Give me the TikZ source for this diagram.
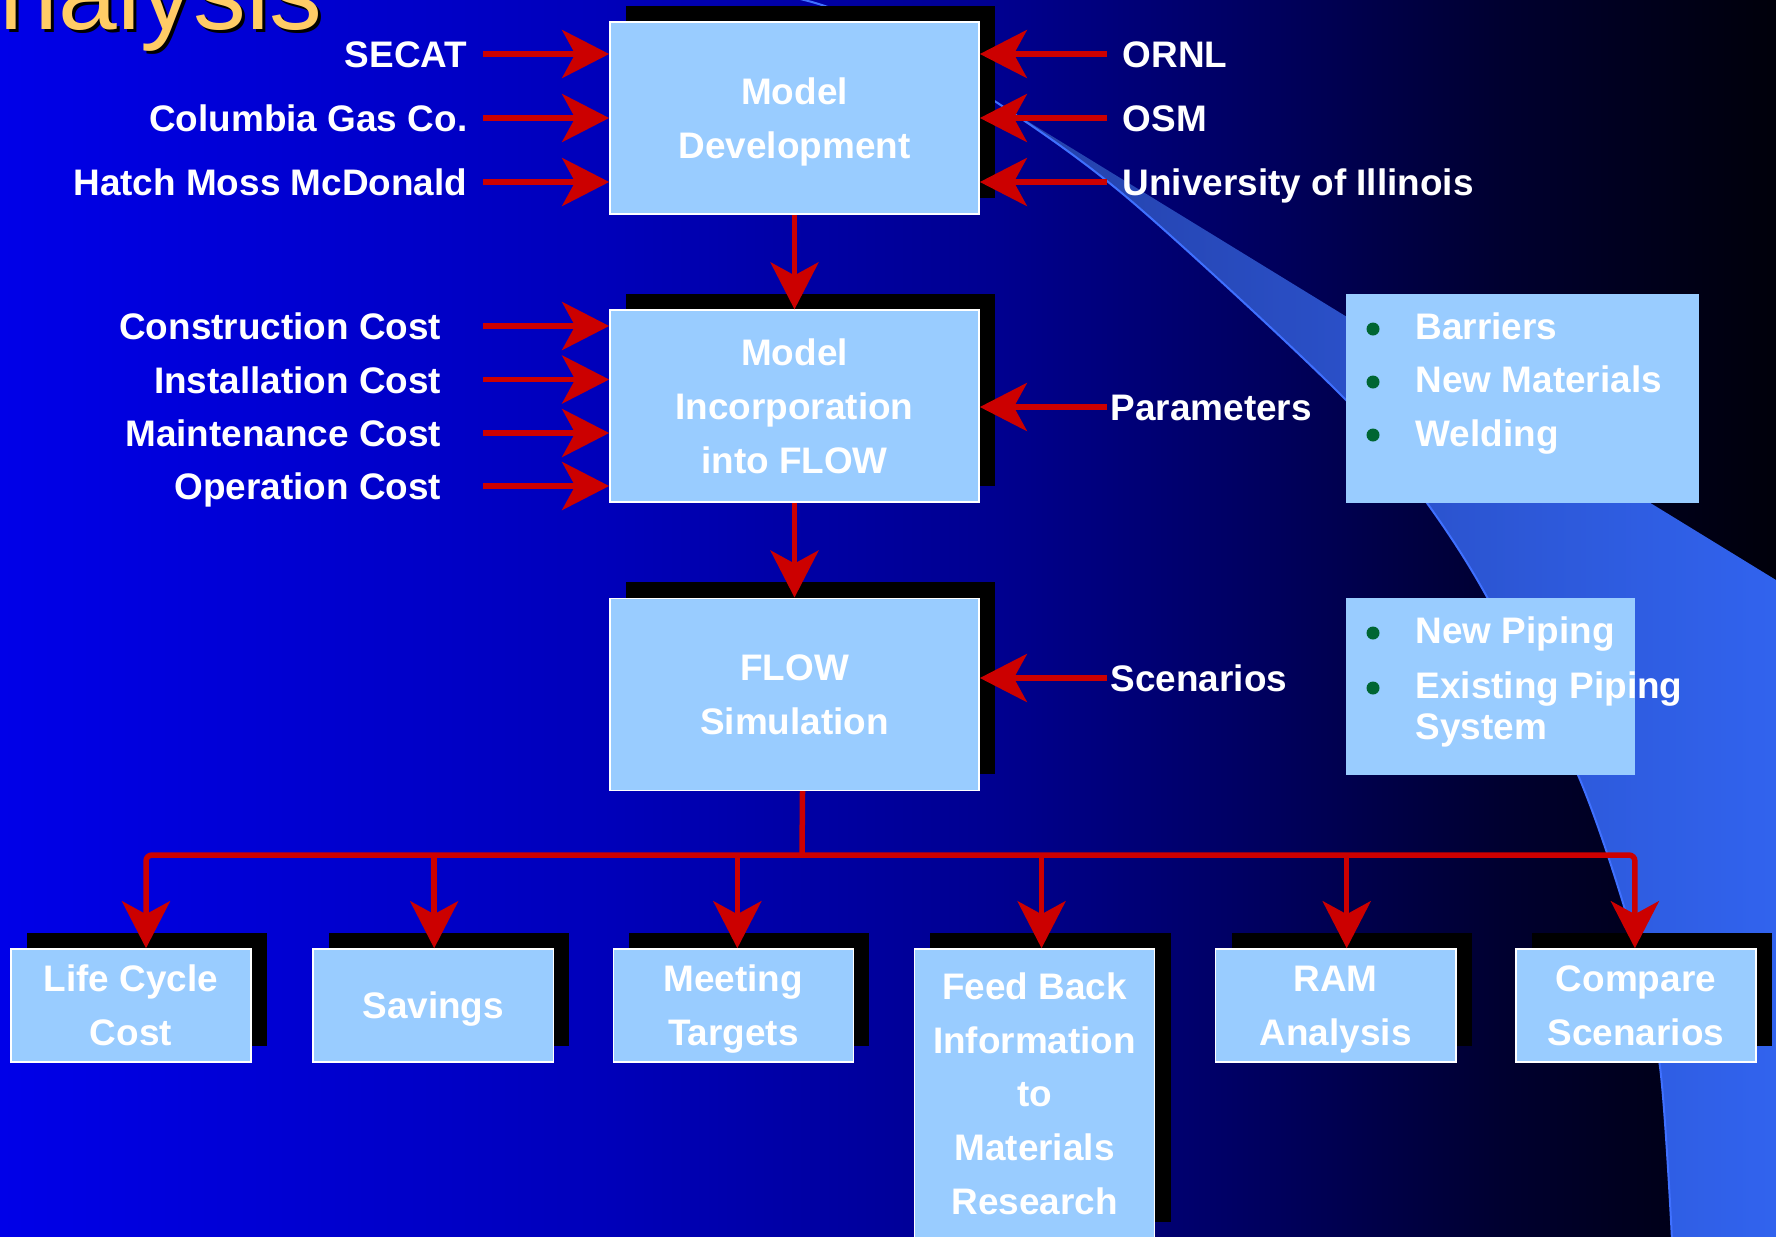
\documentclass[tikz,border=0pt]{standalone}
\usepackage{fontspec}
\setmainfont{Liberation Sans}
\usetikzlibrary{positioning,arrows.meta,shadows}

\definecolor{boxblue}{HTML}{99CCFF}
\definecolor{arrowred}{HTML}{CC0000}
\definecolor{titleyellow}{HTML}{FFCC66}
\definecolor{dotgreen}{HTML}{006633}
\definecolor{swooshline}{HTML}{3F70FF}
\definecolor{swooshdark}{HTML}{2440A8}
\definecolor{swooshlight}{HTML}{3163EE}

\pgfdeclarehorizontalshading{slideshade}{100bp}{rgb(0bp)=(0,0,0.91); rgb(25bp)=(0,0,0.91); rgb(41.9bp)=(0,0,0.73); rgb(53.2bp)=(0,0,0.56); rgb(61bp)=(0,0,0.36); rgb(67.2bp)=(0,0,0.19); rgb(75bp)=(0,0,0.04); rgb(100bp)=(0,0,0.04)}

\begin{document}
\begin{tikzpicture}[x=0.01cm, y=-0.01cm, node distance=0.945cm,
    every node/.style={font=\fontsize{10.5}{15.3}\selectfont\bfseries, text=white},
    main node/.style={rectangle, draw=white, line width=0.015cm, fill=boxblue, align=center,
        minimum width=3.69cm, minimum height=1.92cm, inner sep=0pt, text depth=0pt,
        general shadow={fill=black, shadow xshift=0.16cm, shadow yshift=0.16cm}},
    small node/.style={main node, minimum width=2.40cm, minimum height=1.13cm},
    label node/.style={inner xsep=0.15cm, text height=0.27cm, text depth=0cm},
    bullet box/.style={rectangle, fill=boxblue, inner sep=0pt},
    item node/.style={anchor=base west, inner sep=0pt},
    feed/.style={arrowred, line width=0.055cm, -{Stealth[length=0.47cm, width=0.48cm, inset=0.13cm]}}]

  \useasboundingbox (0,0) rectangle (1776,1236);
  \clip (0,0) rectangle (1776,1236);
  \shade[shading=slideshade] (0,0) rectangle (1776,1236);

  \shade[left color=swooshdark, right color=swooshlight] (993,100) -- (1776,580) -- (1776,1240) -- (1672,1240)
    -- plot[smooth] coordinates {(1672,1240) (1660,1067) (1633,937) (1578,775) (1487,597) (1427,503) (1346,400) (1130,200) (993,100)} -- cycle;
  \draw[swooshline, line width=0.02cm] plot[smooth] coordinates {(780,-5) (847,15) (993,100) (1130,200) (1346,400) (1427,503) (1487,597) (1578,775) (1633,937) (1660,1067) (1672,1240)};

  \node[anchor=base east, inner sep=0pt, text=black, font=\fontsize{30}{30}\selectfont] (titleshade) at (326,32) {nalysis};
  \node[anchor=base east, inner sep=0pt, text=titleyellow, font=\fontsize{30}{30}\selectfont] (title) at (323,29) {nalysis};

  \node[main node] (dev) at (794.5,118) {Model\\Development};
  \node[main node] (inc) [below=of dev] {Model\\Incorporation\\into FLOW};
  \node[main node] (flow) [below=of inc] {FLOW\\Simulation};

  \node[small node] (lcc) at (131,1005.5) {Life Cycle\\Cost};
  \node[small node] (sav) [right=0.605cm of lcc] {Savings};
  \node[small node] (meet) [right=0.585cm of sav] {Meeting\\Targets};
  \node[small node, minimum height=2.89cm] (back) [right=0.595cm of meet.north east, anchor=north west] {Feed Back\\Information\\to\\Materials\\Research};
  \node[small node] (ram) [right=0.595cm of back.north east, anchor=north west] {RAM\\Analysis};
  \node[small node] (cmp) [right=0.585cm of ram] {Compare\\Scenarios};

  \node[label node, anchor=east] (secat) at (483,54) {SECAT};
  \node[label node, anchor=east] (columbia) at (483,118) {Columbia Gas Co.};
  \node[label node, anchor=east] (hatch) at (483,182) {Hatch Moss McDonald};
  \node[label node, anchor=west] (ornl) at (1107,54) {ORNL};
  \node[label node, anchor=west] (osm) at (1107,118) {OSM};
  \node[label node, anchor=west] (uiuc) at (1107,182) {University of Illinois};

  \node[label node, inner xsep=0.41cm, anchor=east] (constr) at (483,326) {Construction Cost};
  \node[label node, inner xsep=0.41cm, anchor=east] (install) at (483,379.5) {Installation Cost};
  \node[label node, inner xsep=0.41cm, anchor=east] (maint) at (483,433) {Maintenance Cost};
  \node[label node, inner xsep=0.41cm, anchor=east] (oper) at (483,486) {Operation Cost};
  \node[label node, inner xsep=0.03cm, anchor=west] (param) at (1107,407) {Parameters};
  \node[label node, inner xsep=0.03cm, anchor=west] (scen) at (1107,678) {Scenarios};

  \node[bullet box, minimum width=3.53cm, minimum height=2.08cm] (barbox) at (1522.5,398.5) {};
  \node[bullet box, minimum width=2.89cm, minimum height=1.77cm] (pipebox) at (1490.5,686.5) {};
  \foreach \y in {329,382,435,633,688}
    \fill[dotgreen] (1373,\y) circle (0.065cm);
  \node[item node] (barr) at (1415,339) {Barriers};
  \node[item node] (newmat) at (1415,392.5) {New Materials};
  \node[item node] (weld) at (1415,446) {Welding};
  \node[item node] (newpipe) at (1415,643) {New Piping};
  \node[item node] (oldpipe) at (1415,698) {Existing Piping};
  \node[item node] (system) at (1415,739) {System};

  \foreach \n in {secat,columbia,hatch}
    \draw[feed] (\n.east) -- (\n -| dev.west);
  \foreach \n in {ornl,osm,uiuc}
    \draw[feed] (\n.west) -- (\n -| dev.east);
  \foreach \n in {constr,install,maint,oper}
    \draw[feed] (\n.east) -- (\n -| inc.west);
  \draw[feed] (param.west) -- (param -| inc.east);
  \draw[feed] (scen.west) -- (scen -| flow.east);
  \draw[feed] (dev) -- (inc);
  \draw[feed] (inc) -- (flow);

  \coordinate (bus) at (802,855);
  \draw[feed, -] ([xshift=0.08cm]flow.south) -- (bus);
  \draw[feed, rounded corners=0.06cm] (bus) -| ([xshift=0.15cm]lcc.north);
  \draw[feed, rounded corners=0.06cm] (bus) -| ([xshift=-0.01cm]cmp.north);
  \foreach \n/\dx in {sav/0.01cm, meet/0.04cm, back/0.07cm, ram/0.11cm}
    \draw[feed] ([xshift=\dx]\n.north |- bus) -- ([xshift=\dx]\n.north);

\end{tikzpicture}
\end{document}
